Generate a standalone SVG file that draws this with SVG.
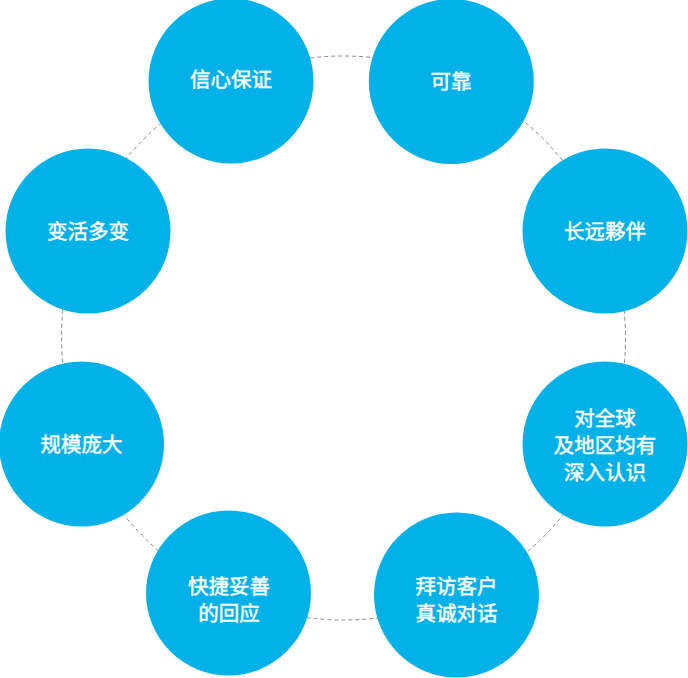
<svg xmlns="http://www.w3.org/2000/svg" width="688" height="678" viewBox="0 0 688 678">
<style>
.ring{fill:none;stroke:#8a8a8a;stroke-width:1;stroke-dasharray:4 3}
.node circle{fill:#03b1e9}
.node text{fill:#ffffff;stroke:#ffffff;stroke-width:0.45;font-family:"Noto Sans CJK SC","Noto Sans",sans-serif;font-size:20.5px;text-anchor:middle}
</style>
<rect width="688" height="678" fill="#ffffff"/>
<g id="connectors">
<circle class="ring" cx="343.5" cy="338" r="282"/>
</g>
<g id="n1" class="node"><circle cx="231" cy="81" r="82.5"/><text x="231" y="87">信心保证</text></g>
<g id="n2" class="node"><circle cx="451.3" cy="81.5" r="82.5"/><text x="451" y="88.5">可靠</text></g>
<g id="n3" class="node"><circle cx="605" cy="231" r="82.5"/><text x="605" y="239">长远夥伴</text></g>
<g id="n4" class="node"><circle cx="605" cy="444" r="82.5"/><text x="605" y="425.5">对全球</text><text x="605" y="453">及地区均有</text><text x="605" y="479.5">深入认识</text></g>
<g id="n5" class="node"><circle cx="456.5" cy="595" r="82.5"/><text x="456.5" y="593.5">拜访客户</text><text x="456.5" y="620.5">真诚对话</text></g>
<g id="n6" class="node"><circle cx="228.5" cy="593" r="82.5"/><text x="229" y="594">快捷妥善</text><text x="229" y="620.5">的回应</text></g>
<g id="n7" class="node"><circle cx="81.5" cy="444" r="82.5"/><text x="81.5" y="451.5">规模庞大</text></g>
<g id="n8" class="node"><circle cx="88" cy="231" r="82.5"/><text x="88" y="239">变活多变</text></g>
</svg>
